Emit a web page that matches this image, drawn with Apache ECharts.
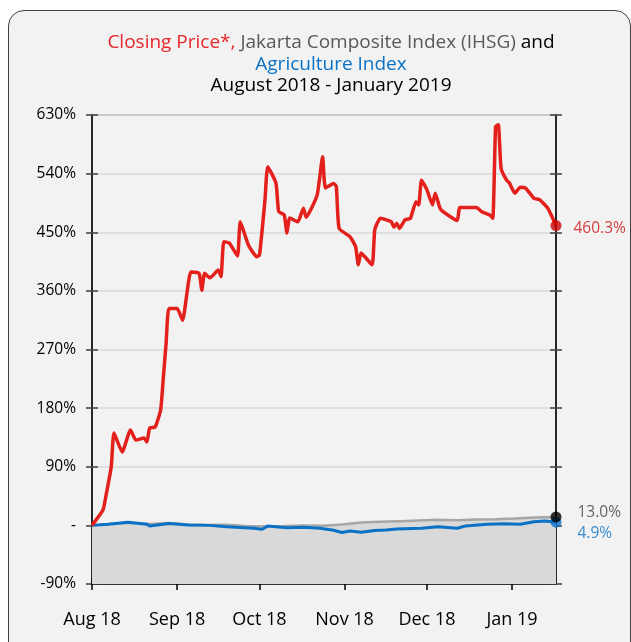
<!DOCTYPE html>
<html>
<head>
<meta charset="utf-8">
<script src="https://cdn.jsdelivr.net/npm/echarts@6/dist/echarts.min.js"></script>
<style>
  html, body { margin: 0; padding: 0; background: #fff; width: 631px; height: 642px; overflow: hidden; }
  .card {
    position: absolute; left: 8px; top: 10px; width: 623px; height: 700px;
    box-sizing: border-box; border: 1.5px solid #404040; border-radius: 16px; background: #f2f2f2;
  }
  #chart { position: absolute; left: 0; top: 0; width: 631px; height: 642px; }
</style>
</head>
<body>
<div class="card"></div>
<div id="chart"></div>
<script>
// closing price, % change since 1 Aug 2018
const priceDates = [
  "2018-08-01", "2018-08-05", "2018-08-06", "2018-08-08", "2018-08-09", "2018-08-12", "2018-08-15", "2018-08-17",
  "2018-08-20", "2018-08-21", "2018-08-22", "2018-08-24", "2018-08-26", "2018-08-27", "2018-08-28", "2018-08-29",
  "2018-09-01", "2018-09-03", "2018-09-06", "2018-09-09", "2018-09-10", "2018-09-11", "2018-09-13", "2018-09-16",
  "2018-09-17", "2018-09-18", "2018-09-20", "2018-09-23", "2018-09-24", "2018-09-27", "2018-09-30", "2018-10-01",
  "2018-10-03", "2018-10-04", "2018-10-07", "2018-10-08", "2018-10-10", "2018-10-11", "2018-10-12", "2018-10-15",
  "2018-10-17", "2018-10-18", "2018-10-22", "2018-10-24", "2018-10-25", "2018-10-28", "2018-10-29", "2018-10-30",
  "2018-11-03", "2018-11-05", "2018-11-06", "2018-11-07", "2018-11-11", "2018-11-12", "2018-11-14", "2018-11-18",
  "2018-11-19", "2018-11-20", "2018-11-21", "2018-11-23", "2018-11-25", "2018-11-27", "2018-11-28", "2018-11-29",
  "2018-12-01", "2018-12-03", "2018-12-04", "2018-12-06", "2018-12-12", "2018-12-13", "2018-12-19", "2018-12-21",
  "2018-12-24", "2018-12-25", "2018-12-26", "2018-12-27", "2018-12-28", "2018-12-30", "2018-12-31", "2019-01-02",
  "2019-01-04", "2019-01-06", "2019-01-09", "2019-01-11", "2019-01-14", "2019-01-17"
];
const priceValues = [
  0, 23.6, 43.6, 89.7, 141.8, 112.7, 146.5, 131,
  134, 128, 149.5, 151, 177, 228, 280, 333,
  333, 315, 389, 387, 361, 387, 380, 392,
  382, 435.5, 433.5, 413.6, 466, 430, 412.5, 415,
  499.5, 550.7, 525.6, 481.6, 476.5, 449, 472, 466,
  487, 473, 507, 566, 518, 525, 520, 456,
  443, 428, 400, 418, 400, 454, 471.5, 466,
  457.5, 464, 456, 469, 471.5, 497, 492, 530,
  515, 492, 510, 485, 468, 488, 488, 481.5,
  476, 471.5, 612, 615, 548, 530, 526, 510,
  519, 517.5, 502, 500, 487, 460.3
];

// Jakarta Composite Index (IHSG)
const ihsgDates = [
  "2018-08-01", "2018-08-08", "2018-08-15", "2018-08-22", "2018-08-29", "2018-09-05", "2018-09-12", "2018-09-19",
  "2018-09-26", "2018-10-03", "2018-10-10", "2018-10-17", "2018-10-24", "2018-10-31", "2018-11-07", "2018-11-14",
  "2018-11-21", "2018-11-28", "2018-12-05", "2018-12-12", "2018-12-19", "2018-12-26", "2019-01-02", "2019-01-09",
  "2019-01-17"
];
const ihsgValues = [
  0, 2.5, 4, 2, 3.5, 1.5, 0.5, 1,
  -1, -1.5, -1, 0, -0.5, 1.5, 4.5, 5.5,
  6.5, 7.5, 8.5, 8, 9, 9.5, 10.5, 12,
  13.0
];

// Agriculture Index
const agriDates = [
  "2018-08-01", "2018-08-07", "2018-08-14", "2018-08-21", "2018-08-22", "2018-08-29", "2018-09-05", "2018-09-13",
  "2018-09-19", "2018-09-29", "2018-10-02", "2018-10-04", "2018-10-11", "2018-10-17", "2018-10-23", "2018-10-28",
  "2018-10-31", "2018-11-03", "2018-11-07", "2018-11-12", "2018-11-16", "2018-11-20", "2018-11-29", "2018-12-05",
  "2018-12-12", "2018-12-15", "2018-12-23", "2018-12-29", "2019-01-04", "2019-01-09", "2019-01-13", "2019-01-17"
];
const agriValues = [
  0, 1.7, 4.7, 1.7, -1, 3, 0.6, 0,
  -2, -4.5, -6, -1, -3.5, -3, -4.5, -7.5,
  -11, -8.6, -10.6, -8, -7, -5.5, -4.5, -2,
  -4.5, -1, 1.7, 2.6, 1.7, 5.7, 6.8, 4.9
];

const monthTicks = ["2018-08-01", "2018-09-01", "2018-10-01", "2018-11-01", "2018-12-01", "2019-01-01"];
const monthLabels = ["Aug 18", "Sep 18", "Oct 18", "Nov 18", "Dec 18", "Jan 19"];
const startDate = "2018-08-01";
const endDate = "2019-01-17";

const FONT = "Open Sans";
// x is counted in days since the start date
const dayOf = d => Math.round((Date.UTC(+d.slice(0, 4), +d.slice(5, 7) - 1, +d.slice(8, 10)) -
  Date.UTC(2018, 7, 1)) / 86400000);
const zip = (ds, vs) => ds.map((d, i) => [dayOf(d), vs[i]]);
const tickDays = monthTicks.map(dayOf);
const xMin = dayOf(startDate);
const xMax = dayOf(endDate);

const yBase = { type: "value", min: -90, max: 630, interval: 90 };
const titleStyle = c => ({ color: c, fontSize: 19, fontFamily: FONT, lineHeight: 21.5 });

let chart = echarts.init(document.getElementById("chart"));
chart.setOption({
  backgroundColor: "transparent",
  animation: false,
  title: {
    left: 326,
    top: 27,
    textAlign: "center",
    text: "{r|Closing Price*,} {g|Jakarta Composite Index (IHSG)} {k|and}\n{b|Agriculture Index}\n{k|August 2018 - January 2019}",
    textStyle: {
      fontFamily: FONT,
      fontSize: 19,
      fontWeight: "normal",
      rich: {
        r: titleStyle("#e8262b"),
        g: titleStyle("#595959"),
        k: titleStyle("#000000"),
        b: titleStyle("#0a72c6")
      }
    }
  },
  grid: {
    left: 92, right: 75, top: 115, bottom: 58,
    show: true, borderColor: "#7f7f7f", borderWidth: 1.5, backgroundColor: "transparent"
  },
  xAxis: [
    {
      type: "value", min: xMin, max: xMax,
      axisLine: { onZero: false, lineStyle: { color: "#000", width: 1.5 } },
      axisTick: { show: true, customValues: tickDays, length: 6, lineStyle: { color: "#000", width: 1.5 } },
      axisLabel: {
        customValues: tickDays,
        formatter: v => monthLabels[tickDays.indexOf(v)] || "",
        margin: 27, fontFamily: FONT, fontSize: 18, color: "#000"
      },
      splitLine: { show: false }
    },
    {
      type: "value", min: xMin, max: xMax, position: "bottom",
      axisLine: { show: false, onZero: false },
      axisTick: { show: true, customValues: tickDays, inside: true, length: 6, lineStyle: { color: "#000", width: 1.5 } },
      axisLabel: { show: false },
      splitLine: { show: false }
    }
  ],
  yAxis: [
    Object.assign({}, yBase, {
      position: "left",
      axisLine: { show: true, onZero: false, lineStyle: { color: "#000", width: 1.5 } },
      axisTick: { show: true, length: 6, lineStyle: { color: "#404040", width: 1.5 } },
      axisLabel: {
        margin: 16, fontFamily: FONT, fontSize: 15.5, color: "#000",
        formatter: v => (v === 0 ? "-" : v + "%")
      },
      splitLine: { show: true, lineStyle: { color: "#d9d9d9", width: 1.5 } }
    }),
    Object.assign({}, yBase, {
      position: "left",
      axisLine: { show: false, onZero: false },
      axisTick: { show: true, inside: true, length: 6, lineStyle: { color: "#404040", width: 1.5 } },
      axisLabel: { show: false },
      splitLine: { show: false }
    }),
    Object.assign({}, yBase, {
      position: "right",
      axisLine: { show: true, onZero: false, lineStyle: { color: "#000", width: 1.5 } },
      axisTick: { show: true, length: 6, lineStyle: { color: "#404040", width: 1.5 } },
      axisLabel: { show: false },
      splitLine: { show: false }
    }),
    Object.assign({}, yBase, {
      position: "right",
      axisLine: { show: false, onZero: false },
      axisTick: { show: true, inside: true, length: 6, lineStyle: { color: "#404040", width: 1.5 } },
      axisLabel: { show: false },
      splitLine: { show: false }
    })
  ],
  series: [
    {
      name: "IHSG",
      type: "line",
      data: zip(ihsgDates, ihsgValues),
      symbol: "none",
      lineStyle: { color: "#a6a6a6", width: 2.5 },
      areaStyle: { color: "#d9d9d9", opacity: 1, origin: "start" },
      z: 2
    },
    {
      name: "Agriculture Index",
      type: "line",
      data: zip(agriDates, agriValues),
      symbol: "none",
      lineStyle: { color: "#0a72c6", width: 3 },
      z: 3
    },
    {
      name: "Closing Price",
      type: "line",
      data: zip(priceDates, priceValues),
      symbol: "none",
      smooth: 0.15,
      lineStyle: { color: "#e3201c", width: 3.5 },
      z: 4
    },
    {
      type: "scatter",
      clip: false,
      symbolSize: 11,
      z: 5,
      data: [
        {
          value: [xMax, agriValues[agriValues.length - 1]],
          itemStyle: { color: "#0a72c6" },
          label: { show: true, position: "right", distance: 16, offset: [0, 11], color: "#0a72c6",
            formatter: agriValues[agriValues.length - 1].toFixed(1) + "%" }
        },
        {
          value: [xMax, ihsgValues[ihsgValues.length - 1]],
          itemStyle: { color: "#000" },
          label: { show: true, position: "right", distance: 16, offset: [0, -4], color: "#404040",
            formatter: ihsgValues[ihsgValues.length - 1].toFixed(1) + "%" }
        },
        {
          value: [xMax, priceValues[priceValues.length - 1]],
          itemStyle: { color: "#cc0000" },
          label: { show: true, position: "right", distance: 12, offset: [0, 3], color: "#cc1010",
            formatter: priceValues[priceValues.length - 1].toFixed(1) + "%" }
        }
      ],
      label: { fontFamily: FONT, fontSize: 15.5 }
    }
  ]
});
</script>
</body>
</html>
